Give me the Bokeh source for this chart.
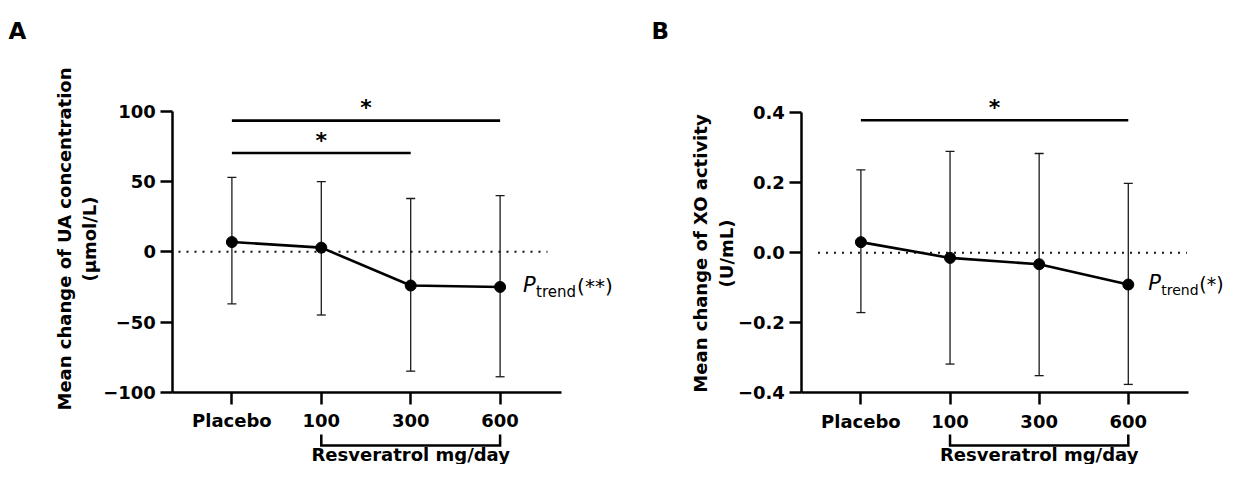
import math
from bokeh.plotting import figure
from bokeh.layouts import row
from bokeh.models import (Range1d, FixedTicker, Whisker, TeeHead, ColumnDataSource, Label)
from bokeh.embed import file_html
from bokeh.resources import INLINE

# ---------------- data ----------------
groups = ["Placebo", "100", "300", "600"]
group_x = [0, 1, 2, 3]

ua_mean = [7, 3, -24, -25]
ua_upper = [53, 50, 38, 40]
ua_lower = [-37, -45, -85, -89]
ua_ticks = [-100, -50, 0, 50, 100]
ua_tick_labels = ["\u2212100", "\u221250", "0", "50", "100"]
ua_sig_start = [0, 0]
ua_sig_end = [3, 2]
ua_sig_y = [93.5, 70.4]
ua_sig_text = ["*", "*"]
ua_trend = "(**)"
ua_ylabel = ["Mean change of UA concentration", "(\u03bcmol/L)"]

xo_mean = [0.030, -0.015, -0.033, -0.091]
xo_upper = [0.236, 0.289, 0.283, 0.198]
xo_lower = [-0.171, -0.318, -0.351, -0.376]
xo_ticks = [-0.4, -0.2, 0.0, 0.2, 0.4]
xo_tick_labels = ["\u22120.4", "\u22120.2", "0.0", "0.2", "0.4"]
xo_sig_start = [0]
xo_sig_end = [3]
xo_sig_y = [0.378]
xo_sig_text = ["*"]
xo_trend = "(*)"
xo_ylabel = ["Mean change of XO activity", "(U/mL)"]

bracket_label = "Resveratrol mg/day"

FONT = "DejaVu Sans"
W, H = 613, 464


def panel(letter, origin, ref_placebo, pxu_x, ref_ytop, pxu_y, ref_axis_left, ref_axis_right,
          mean, upper, lower, ticks, tick_labels, ylab, ylab_px, ylab_cy, letter_px,
          sig_s, sig_e, sig_y, sig_t, trend, trend_offsets, trend_sizes, zero_px):
    # reference-pixel -> data helpers (layout only)
    def dx(px):
        return (px - ref_placebo) / pxu_x

    def dy(py):
        return ticks[-1] - (py - ref_ytop) / pxu_y

    def ddy(pix):
        return pix / pxu_y

    p = figure(width=W, height=H, output_backend="svg", toolbar_location=None,
               x_range=Range1d(dx(origin), dx(origin + W)),
               y_range=Range1d(dy(H), dy(0)),
               min_border_left=0, min_border_right=0, min_border_top=0, min_border_bottom=0)
    p.outline_line_color = None
    p.grid.visible = False
    p.background_fill_color = "white"
    p.border_fill_color = "white"

    xb0, xb1 = dx(ref_axis_left), dx(ref_axis_right)
    for ax in (p.xaxis[0], p.yaxis[0]):
        ax.axis_line_width = 2.5
        ax.axis_line_color = "black"
        ax.major_tick_line_width = 2.5
        ax.major_tick_line_color = "black"
        ax.major_tick_out = 12
        ax.major_tick_in = 0
        ax.minor_tick_line_color = None
        ax.major_label_text_font = FONT
        ax.major_label_text_font_style = "bold"
        ax.major_label_text_font_size = "18px"
        ax.major_label_text_color = "black"

    p.xaxis.fixed_location = ticks[0]
    p.xaxis.bounds = (xb0, xb1)
    p.xaxis.ticker = FixedTicker(ticks=group_x)
    p.xaxis.major_label_overrides = {x: g for x, g in zip(group_x, groups)}
    p.xaxis.major_label_standoff = 6

    p.yaxis.fixed_location = xb0
    p.yaxis.bounds = (ticks[0], ticks[-1])
    p.yaxis.ticker = FixedTicker(ticks=ticks)
    p.yaxis.major_label_overrides = {t: l for t, l in zip(ticks, tick_labels)}
    p.yaxis.major_label_standoff = 5

    # y-axis title (two lines, rotated)
    for txt, px in zip(ylab, ylab_px):
        p.add_layout(Label(x=dx(px), y=dy(ylab_cy), text=txt, angle=90, angle_units="deg",
                           text_align="center", text_baseline="middle", text_font=FONT,
                           text_font_style="bold", text_font_size="18px", text_color="black"))

    # zero reference line (dotted)
    p.segment(x0=[dx(zero_px[0])], y0=[0], x1=[dx(zero_px[1])], y1=[0],
              line_color="#111111", line_width=2, line_dash="2 6")

    src = ColumnDataSource(dict(x=group_x, mean=mean, upper=upper, lower=lower))
    wk = Whisker(base="x", upper="upper", lower="lower", source=src,
                 line_width=1.3, line_color="#1a1a1a", level="underlay",
                 upper_head=TeeHead(size=9, line_width=1.3, line_color="#1a1a1a"),
                 lower_head=TeeHead(size=9, line_width=1.3, line_color="#1a1a1a"))
    p.add_layout(wk)
    p.line("x", "mean", source=src, line_width=2.6, line_color="black")
    p.scatter("x", "mean", source=src, size=11, fill_color="black", line_color="black")

    # significance bars + stars
    p.segment(x0=sig_s, y0=sig_y, x1=sig_e, y1=sig_y, line_width=2.6, line_color="black")
    for s, e, yv, t in zip(sig_s, sig_e, sig_y, sig_t):
        p.add_layout(Label(x=(s + e) / 2, y=yv + ddy(13), text=t, text_align="center",
                           text_baseline="middle", text_font=FONT,
                           text_font_style="bold", text_font_size="22px",
                           text_color="black"))

    # P trend annotation next to last point
    xl, yl = group_x[-1], mean[-1]
    o1, o2, o3 = trend_offsets
    s1, s2, s3 = trend_sizes
    p.add_layout(Label(x=xl, y=yl, x_offset=o1, y_offset=1.5, text="P",
                       text_font=FONT, text_font_style="italic", text_font_size=s1,
                       text_align="left", text_baseline="middle", text_color="black"))
    p.add_layout(Label(x=xl, y=yl, x_offset=o2, y_offset=-5.5, text="trend",
                       text_font=FONT, text_font_size=s2,
                       text_align="left", text_baseline="middle", text_color="black"))
    p.add_layout(Label(x=xl, y=yl, x_offset=o3, y_offset=0.5, text=trend,
                       text_font=FONT, text_font_size=s3,
                       text_align="left", text_baseline="middle", text_color="black"))

    # bracket under the resveratrol doses
    yb, yt = dy(445), dy(434)
    p.line(x=[group_x[1], group_x[1], group_x[-1], group_x[-1]], y=[yt, yb, yb, yt],
           line_width=2.5, line_color="black", line_join="miter")
    p.add_layout(Label(x=(group_x[1] + group_x[-1]) / 2, y=dy(454), text=bracket_label,
                       text_align="center", text_baseline="middle", text_font=FONT,
                       text_font_style="bold", text_font_size="18px", text_color="black"))

    # panel letter
    p.add_layout(Label(x=dx(letter_px), y=dy(30.5), text=letter, text_align="left",
                       text_baseline="middle", text_font=FONT, text_font_style="bold",
                       text_font_size="23px", text_color="black"))
    return p


pa = panel("A", 0, 231.4, 89.4, 111, 1.4035, 172.4, 560.5,
           ua_mean, ua_upper, ua_lower, ua_ticks, ua_tick_labels, ua_ylabel, (64, 89), 238.5, 8,
           ua_sig_start, ua_sig_end, ua_sig_y, ua_sig_text, ua_trend,
           (23, 36, 77), ("21px", "15px", "20px"), (178, 547))
pb = panel("B", 616, 863.4, 89.13, 112, 350.4, 804.4, 1191.4,
           xo_mean, xo_upper, xo_lower, xo_ticks, xo_tick_labels, xo_ylabel, (703, 729), 253, 654,
           xo_sig_start, xo_sig_end, xo_sig_y, xo_sig_text, xo_trend,
           (20, 33, 71), ("21px", "14px", "19px"), (820.5, 1189.4))

layout = row(pa, pb, spacing=0)
open("out.html", "w").write(file_html(layout, INLINE))
